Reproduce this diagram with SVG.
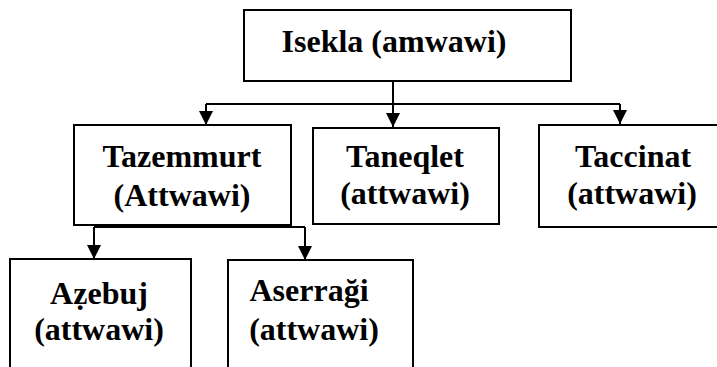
<svg xmlns="http://www.w3.org/2000/svg" width="717" height="367" viewBox="0 0 717 367">
<defs>
<style>
.box{fill:#fff;stroke:#000;stroke-width:2}
.ln{fill:none;stroke:#000;stroke-width:2}
</style>
<marker id="ah" markerWidth="14" markerHeight="14" viewBox="0 0 14 14" refX="14" refY="7" orient="auto" markerUnits="userSpaceOnUse">
<path d="M0,0 L14,7 L0,14 Z" fill="#000"/>
</marker>
</defs>
<rect width="717" height="367" fill="#fff"/>
<g id="connectors">
<path class="ln" d="M393,81 V104"/>
<path class="ln" d="M206,104 H620"/>
<path class="ln" d="M206,104 V125" marker-end="url(#ah)"/>
<path class="ln" d="M393,104 V127" marker-end="url(#ah)"/>
<path class="ln" d="M620,104 V124" marker-end="url(#ah)"/>
<path class="ln" d="M201,207 V227"/>
<path class="ln" d="M94,227 H305"/>
<path class="ln" d="M94,227 V259" marker-end="url(#ah)"/>
<path class="ln" d="M305,227 V260" marker-end="url(#ah)"/>
</g>
<g font-family="Liberation Serif, Times New Roman, DejaVu Serif, serif" font-weight="bold" font-size="32" fill="#000" text-anchor="middle">
<g id="isekla">
<rect class="box" x="244" y="10" width="327" height="71"/>
<text x="394" y="52">Isekla (amwawi)</text>
</g>
<g id="tazemmurt">
<rect class="box" x="74" y="125" width="217" height="100"/>
<text x="182" y="167">Tazemmurt</text>
<text x="182" y="206">(Attwawi)</text>
</g>
<g id="taneqlet">
<rect class="box" x="313" y="128" width="186" height="96"/>
<text x="405" y="167">Taneqlet</text>
<text x="405" y="204">(attwawi)</text>
</g>
<g id="taccinat">
<rect class="box" x="539" y="125" width="190" height="102"/>
<text x="633" y="167">Taccinat</text>
<text x="632" y="204">(attwawi)</text>
</g>
<g id="azebuj">
<rect class="box" x="10" y="259" width="181" height="120"/>
<text x="99" y="304">Aẓebuj</text>
<text x="99" y="340">(attwawi)</text>
</g>
<g id="aserragi">
<rect class="box" x="228" y="260" width="185" height="120"/>
<text x="309" y="301">Aserraği</text>
<text x="314" y="340">(attwawi)</text>
</g>
</g>
</svg>
